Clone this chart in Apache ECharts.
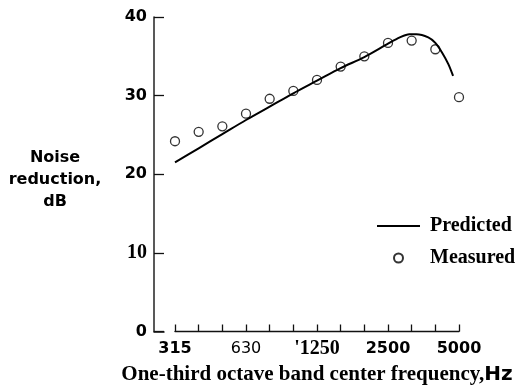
<!DOCTYPE html>
<html>
<head>
<meta charset="utf-8">
<script src="https://cdn.jsdelivr.net/npm/echarts@6/dist/echarts.min.js"></script>
<style>
  html, body { margin: 0; padding: 0; background: #fff; }
  #chart { width: 520px; height: 387px; }
</style>
</head>
<body>
<div id="chart"></div>
<script>
// One-third octave bands (Hz), plotted by band index 0..12
const bands = ['315', '400', '500', '630', '800', '1000', '1250', '1600', '2000', '2500', '3150', '4000', '5000'];
// Labelled bands on the frequency axis (every third band)
const tickLabels = ['315', '630', "'1250", '2500', '5000'];
// Measured noise reduction, dB (one value per band)
const measured = [24.2, 25.4, 26.1, 27.7, 29.6, 30.6, 32.0, 33.7, 35.0, 36.7, 37.0, 35.9, 29.8];
// Predicted curve: band position and noise reduction, dB
const predictedPos = [0, 1, 2, 3, 4, 5, 6, 7, 8, 9, 9.5, 9.9, 10.2, 10.7, 11, 11.3, 11.55, 11.75];
const predictedDb = [21.5, 23.3, 25.1, 26.9, 28.6, 30.3, 31.9, 33.5, 34.9, 36.6, 37.4, 37.8, 37.8, 37.4, 36.7, 35.4, 34.0, 32.5];
// Noise-reduction axis ticks
const yTicks = [0, 10, 20, 30, 40];

const SANS = 'DejaVu Sans';
const SERIF = 'Liberation Serif';

const chart = echarts.init(document.getElementById('chart'), null, { renderer: 'canvas' });

const measuredData = measured.map((v, i) => [i, v]);
const predictedData = predictedPos.map((p, i) => [p, predictedDb[i]]);

chart.setOption({
  backgroundColor: '#fff',
  animation: false,
  grid: [
    // vertical scale with short corner stub
    { left: 154, width: 10, top: 17, bottom: 55.5, outerBoundsMode: 'none', containLabel: false },
    // frequency bands
    { left: 175, right: 61, top: 17, bottom: 55.5, outerBoundsMode: 'none', containLabel: false }
  ],
  xAxis: [
    {
      gridIndex: 0, type: 'value', min: 0, max: 1,
      axisLine: { show: true, lineStyle: { color: '#111', width: 1.5 } },
      axisTick: { show: false }, axisLabel: { show: false }, splitLine: { show: false }
    },
    {
      gridIndex: 1, type: 'value', min: 0, max: bands.length - 1, interval: 1,
      axisLine: { show: true, lineStyle: { color: '#111', width: 1.4 } },
      axisTick: { show: true, inside: true, length: 7, lineStyle: { color: '#111', width: 1.3 } },
      splitLine: { show: false },
      axisLabel: {
        margin: 8.5,
        alignMinLabel: 'center',
        alignMaxLabel: 'center',
        hideOverlap: false,
        formatter: function (v) {
          if (v % 3 !== 0) return '';
          const t = tickLabels[v / 3];
          if (t.charAt(0) === "'") return '{s|' + t + '}';
          if (t === '630') return '{n|' + t + '}';
          return '{b|' + t + '}';
        },
        rich: {
          b: { fontFamily: SANS, fontWeight: 'bold', fontSize: 16, lineHeight: 18, color: '#000' },
          n: { fontFamily: SANS, fontWeight: 'normal', fontSize: 16, lineHeight: 18, color: '#000' },
          s: { fontFamily: SERIF, fontWeight: 'bold', fontSize: 20, lineHeight: 18, color: '#000' }
        }
      },
      name: '{t|One-third octave band center frequency,}{h|Hz}',
      nameLocation: 'middle',
      nameGap: 30.5,
      nameTextStyle: {
        rich: {
          t: { fontFamily: SERIF, fontWeight: 'bold', fontSize: 21, lineHeight: 22, color: '#000' },
          h: { fontFamily: SANS, fontWeight: 'bold', fontSize: 20, lineHeight: 22, color: '#000' }
        }
      }
    }
  ],
  yAxis: [
    {
      gridIndex: 0, type: 'value', min: yTicks[0], max: yTicks[yTicks.length - 1], interval: 10,
      axisLine: { show: true, lineStyle: { color: '#222', width: 1.5 } },
      axisTick: { show: true, inside: true, length: 10, lineStyle: { color: '#111', width: 1.3 } },
      splitLine: { show: false },
      axisLabel: {
        margin: 7,
        formatter: function (v) {
          return v === 10 ? '{s|' + v + '}' : '{b|' + v + '}';
        },
        rich: {
          b: { fontFamily: SANS, fontWeight: 'bold', fontSize: 16, lineHeight: 18, color: '#000' },
          s: { fontFamily: SERIF, fontWeight: 'bold', fontSize: 20, lineHeight: 18, color: '#000' }
        }
      }
    },
    {
      gridIndex: 1, type: 'value', min: yTicks[0], max: yTicks[yTicks.length - 1], show: false
    }
  ],
  legend: {
    orient: 'vertical',
    left: 371,
    top: 210,
    itemWidth: 43,
    itemHeight: 9,
    itemGap: 10,
    textStyle: {
      fontFamily: SERIF, fontWeight: 'bold', fontSize: 20, color: '#000', lineHeight: 22,
      padding: [0, 0, 0, 5]
    },
    data: [
      { name: 'Predicted', itemStyle: { opacity: 0 } },
      'Measured'
    ]
  },
  graphic: [
    {
      type: 'text',
      x: 55, y: 147,
      style: {
        text: 'Noise\nreduction,\ndB',
        align: 'center',
        verticalAlign: 'top',
        fontFamily: SANS, fontWeight: 'bold', fontSize: 16,
        lineHeight: 22,
        fill: '#000'
      }
    }
  ],
  series: [
    {
      name: 'Predicted',
      type: 'line',
      xAxisIndex: 1, yAxisIndex: 1,
      data: predictedData,
      smooth: 0.3,
      symbol: 'none',
      lineStyle: { color: '#000', width: 2 },
      itemStyle: { color: '#000' }
    },
    {
      name: 'Measured',
      type: 'scatter',
      xAxisIndex: 1, yAxisIndex: 1,
      data: measuredData,
      symbol: 'circle',
      symbolSize: 9,
      itemStyle: { color: '#fff', borderColor: '#000', borderWidth: 1.3 }
    }
  ]
});
</script>
</body>
</html>
